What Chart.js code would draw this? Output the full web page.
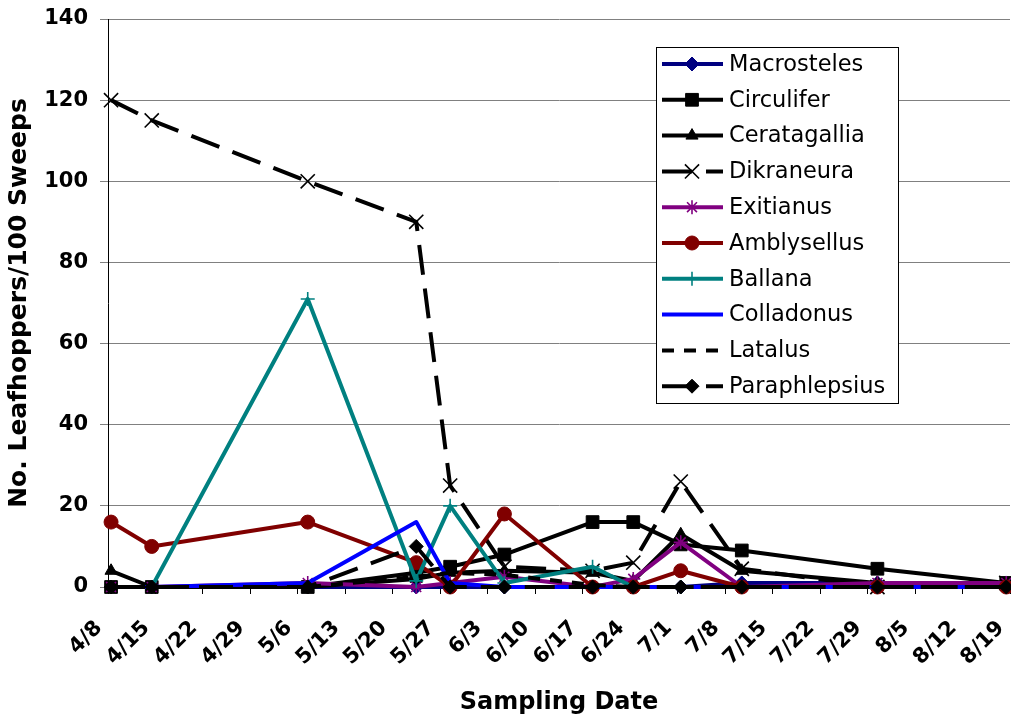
<!DOCTYPE html>
<html lang="en">
<head>
<meta charset="UTF-8">
<title>Leafhoppers per 100 sweeps</title>
<script src="https://cdn.jsdelivr.net/npm/chart.js"></script>
<style>
  html, body { margin: 0; padding: 0; background: #fff; }
  #marco { width: 1011px; height: 724px; }
</style>
</head>
<body>
<div id="marco"><canvas id="grafico"></canvas></div>
<script>
// fechas de muestreo (mes/día)
const fechas = ['4/8', '4/14', '5/7', '5/23', '5/28', '6/5', '6/18', '6/24', '7/1', '7/10', '7/30', '8/18'];

// etiquetas del eje x, una por semana
const etiquetasEje = ['4/8', '4/15', '4/22', '4/29', '5/6', '5/13', '5/20', '5/27', '6/3', '6/10',
  '6/17', '6/24', '7/1', '7/8', '7/15', '7/22', '7/29', '8/5', '8/12', '8/19'];

// chicharritas por 100 pases de red
const macrosteles   = [0, 0, 0, 0, 0, 0, 0, 0, 0, 1, 1, 1];
const circulifer    = [0, 0, 0, 3.5, 5, 8, 16, 16, 10.5, 9, 4.5, 1];
const ceratagallia  = [4, 0, 0, 2, 3.5, 4, 3.5, 1.5, 13, 4, 1, 0];
const dikraneura    = [120, 115, 100, 90, 25, 5, 4, 6, 26, 4.5, 0, 1];
const exitianus     = [0, 0, 1, 0, 1, 2.5, 0, 2, 11, 0, 1, 1];
const amblysellus   = [16, 10, 16, 6, 0, 18, 0, 0, 4, 0, 0, 0];
const ballana       = [0, 0, 71, 1.5, 20, 1, 5, 0, 0, 0, 0, 0];
const colladonus    = [0, 0, 1, 16, 1, 0, 0, 0, 0, 0, 0, 0];
const latalus       = [0, 0, 0, 2.5, 3.5, 3, 0.5, 0, 0, 0, 0, 0];
const paraphlepsius = [0, 0, 0, 10, 0, 0, 0, 0, 0, 0, 0, 0];

// días transcurridos desde el 8 de abril
function dia(md) {
  const [m, d] = md.split('/').map(Number);
  return Math.round((Date.UTC(2003, m - 1, d) - Date.UTC(2003, 3, 8)) / 86400000);
}
const desfase = 0.45;

function serie(label, valores, color, estilo, radio, anchoPunto, guiones) {
  return {
    label,
    data: fechas.map((f, i) => ({ x: dia(f), y: valores[i] })),
    borderColor: color,
    backgroundColor: color,
    borderWidth: 4,
    borderDash: guiones || [],
    borderJoinStyle: 'round',
    pointStyle: estilo || 'circle',
    pointRadius: radio,
    pointBorderWidth: anchoPunto,
    pointBackgroundColor: color,
    pointBorderColor: color,
    fill: false,
    tension: 0,
    clip: false
  };
}

const datasets = [
  serie('Macrosteles', macrosteles, '#000080', 'rectRot', 7, 1),
  serie('Circulifer', circulifer, '#000000', 'rect', 9, 1),
  serie('Ceratagallia', ceratagallia, '#000000', 'triangle', 7, 1),
  serie('Dikraneura', dikraneura, '#000000', 'crossRot', 10, 1.6, [30, 14]),
  serie('Exitianus', exitianus, '#800080', 'star', 7, 1.6),
  serie('Amblysellus', amblysellus, '#800000', 'circle', 7, 1),
  serie('Ballana', ballana, '#008080', 'cross', 7, 1.6),
  serie('Colladonus', colladonus, '#0000FF', 'circle', 0, 0),
  serie('Latalus', latalus, '#000000', 'circle', 0, 0, [12, 10]),
  serie('Paraphlepsius', paraphlepsius, '#000000', 'rectRot', 7, 1, [30, 14])
];
// la última serie queda encima
datasets.forEach((d, i) => { d.order = datasets.length - 1 - i; });

// leyenda dentro del área de trazado
const leyenda = {
  id: 'leyenda',
  afterDatasetsDraw(chart) {
    const ctx = chart.ctx;
    const x0 = 656.5, y0 = 47.5, ancho = 242, alto = 356;
    ctx.save();
    ctx.fillStyle = '#fff';
    ctx.fillRect(x0, y0, ancho, alto);
    ctx.strokeStyle = '#000';
    ctx.lineWidth = 1;
    ctx.setLineDash([]);
    ctx.strokeRect(x0, y0, ancho, alto);
    chart.data.datasets.forEach((ds, i) => {
      const y = 64 + i * 35.8;
      ctx.strokeStyle = ds.borderColor;
      ctx.lineWidth = ds.borderWidth;
      ctx.setLineDash(ds.borderDash);
      ctx.beginPath();
      ctx.moveTo(662, y);
      ctx.lineTo(723, y);
      ctx.stroke();
      ctx.setLineDash([]);
      if (ds.pointRadius > 0 && Chart.helpers && Chart.helpers.drawPoint) {
        ctx.fillStyle = ds.borderColor;
        ctx.lineWidth = ds.pointBorderWidth;
        Chart.helpers.drawPoint(ctx, {
          pointStyle: ds.pointStyle, radius: ds.pointRadius,
          borderWidth: ds.pointBorderWidth, rotation: 0
        }, 692, y);
      }
      ctx.fillStyle = '#000';
      ctx.font = '22.5px "DejaVu Sans"';
      ctx.textBaseline = 'middle';
      ctx.textAlign = 'left';
      ctx.fillText(ds.label, 729, y + 1);
    });
    ctx.restore();
  }
};

Chart.defaults.font.family = '"DejaVu Sans", sans-serif';
Chart.defaults.color = '#000';

new Chart(document.getElementById('grafico').getContext('2d'), {
  type: 'line',
  data: { datasets },
  options: {
    responsive: true,
    maintainAspectRatio: false,
    animation: false,
    layout: { autoPadding: false, padding: { top: 19, right: 1, left: 0, bottom: 0 } },
    plugins: { legend: { display: false }, tooltip: { enabled: false } },
    scales: {
      x: {
        type: 'linear',
        min: -desfase,
        max: dia('8/19') - desfase,
        afterBuildTicks(scale) {
          scale.ticks = etiquetasEje.map(t => ({ value: dia(t) - desfase }));
        },
        afterFit(scale) {
          scale.height = 137;
          scale.paddingLeft = 0;
          scale.paddingRight = 0;
        },
        grid: { drawOnChartArea: false, drawTicks: true, tickLength: 7, color: '#000' },
        border: { color: '#000', width: 1 },
        ticks: {
          autoSkip: false, maxRotation: 45, minRotation: 45,
          padding: 22, labelOffset: -9,
          font: { size: 21, weight: 'bold' },
          callback: (v, i) => etiquetasEje[i]
        },
        title: {
          display: true, text: 'Sampling Date',
          font: { size: 24, weight: 'bold' },
          padding: { top: 0, bottom: 7 }
        }
      },
      y: {
        min: 0,
        max: 140,
        afterFit(scale) {
          scale.width = 108;
          scale.paddingTop = 0;
          scale.paddingBottom = 0;
        },
        grid: { color: '#808080', tickLength: 8 },
        border: { color: '#000', width: 1 },
        ticks: { stepSize: 20, padding: 12, font: { size: 21, weight: 'bold' } },
        title: {
          display: true, text: 'No. Leafhoppers/100 Sweeps',
          font: { size: 25, weight: 'bold' },
          padding: { top: 4, bottom: 0 }
        }
      }
    }
  },
  plugins: [leyenda]
});
</script>
</body>
</html>
